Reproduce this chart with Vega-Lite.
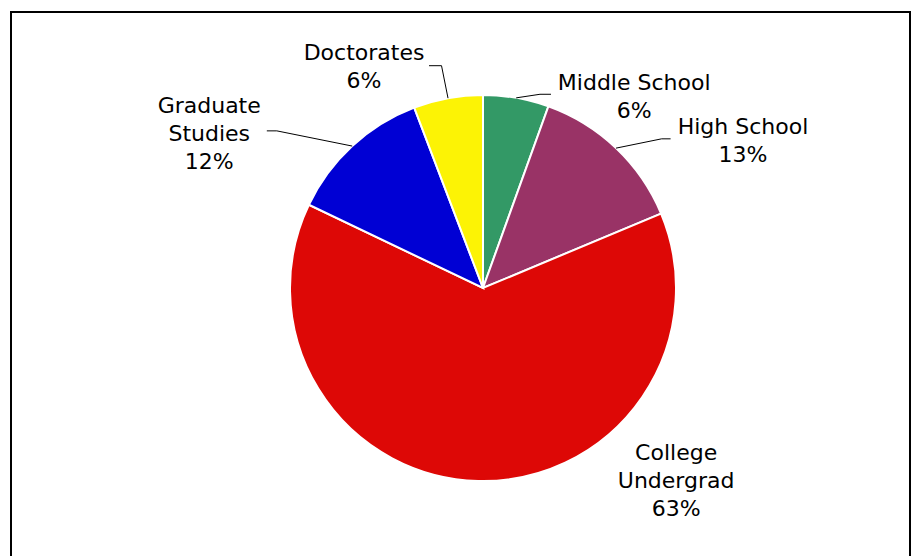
{
  "$schema": "https://vega.github.io/schema/vega-lite/v6.json",
  "width": 912,
  "height": 556,
  "autosize": {"type": "none"},
  "padding": 0,
  "background": "white",
  "config": {"view": {"stroke": null}, "text": {"lineBreak": "\n"}},
  "data": {"values": [
    {"level": "Middle School", "value": 5.5, "order": 1, "label": "Middle School\n6%"},
    {"level": "High School", "value": 13.2, "order": 2, "label": "High School\n13%"},
    {"level": "College Undergrad", "value": 63.4, "order": 3, "label": "College\nUndergrad\n63%"},
    {"level": "Graduate Studies", "value": 12.1, "order": 4, "label": "Graduate\nStudies\n12%"},
    {"level": "Doctorates", "value": 5.8, "order": 5, "label": "Doctorates\n6%"}
  ]},
  "transform": [
    {"window": [{"op": "sum", "field": "value", "as": "cum"}], "sort": [{"field": "order"}], "frame": [null, 0]},
    {"joinaggregate": [{"op": "sum", "field": "value", "as": "total"}]},
    {"calculate": "(datum.cum - datum.value / 2) / datum.total * 2 * PI", "as": "ang"},
    {"calculate": "193 * sin(datum.ang)", "as": "px"},
    {"calculate": "-193 * cos(datum.ang)", "as": "py"}
  ],
  "layer": [
    {
      "data": {"values": [{"frame": 1}]},
      "mark": {"type": "rect", "fill": null, "stroke": "black", "strokeWidth": 2, "clip": false},
      "encoding": {
        "x": {"datum": -472, "type": "quantitative", "scale": {"type": "linear", "domain": [-483, 429], "nice": false, "zero": false}, "axis": null},
        "x2": {"datum": 427},
        "y": {"datum": -276, "type": "quantitative", "scale": {"type": "linear", "domain": [-288, 268], "nice": false, "zero": false, "reverse": true}, "axis": null},
        "y2": {"datum": 290}
      }
    },
    {
      "mark": {"type": "arc", "outerRadius": 193, "stroke": "white", "strokeWidth": 2},
      "encoding": {
        "theta": {"field": "value", "type": "quantitative", "stack": true},
        "order": {"field": "order", "type": "quantitative"},
        "color": {"field": "level", "type": "nominal", "legend": null,
          "scale": {"domain": ["Middle School", "High School", "College Undergrad", "Graduate Studies", "Doctorates"],
                    "range": ["#339966", "#993366", "#DD0806", "#0000D4", "#FCF305"]}},
        "x": {"datum": 0, "type": "quantitative", "scale": {"type": "linear", "domain": [-483, 429], "nice": false, "zero": false}, "axis": null},
        "y": {"datum": 0, "type": "quantitative", "scale": {"type": "linear", "domain": [-288, 268], "nice": false, "zero": false, "reverse": true}, "axis": null}
      }
    },
    {
      "transform": [{"filter": "datum.level === 'Doctorates'"}],
      "encoding": {
        "x": {"field": "px", "type": "quantitative", "scale": {"type": "linear", "domain": [-483, 429], "nice": false, "zero": false}, "axis": null},
        "y": {"field": "py", "type": "quantitative", "scale": {"type": "linear", "domain": [-288, 268], "nice": false, "zero": false, "reverse": true}, "axis": null}
      },
      "layer": [
        {"mark": {"type": "rule", "color": "black", "strokeWidth": 1, "x2Offset": -6.5, "y2Offset": -32.5}, "encoding": {"x2": {"field": "px"}, "y2": {"field": "py"}}},
        {"mark": {"type": "rule", "color": "black", "strokeWidth": 1, "xOffset": -6.5, "yOffset": -32.5, "x2Offset": -19, "y2Offset": -32.5}, "encoding": {"x2": {"field": "px"}, "y2": {"field": "py"}}},
        {"mark": {"type": "text", "font": "DejaVu Sans", "fontSize": 22, "lineHeight": 28, "color": "black", "align": "center", "baseline": "alphabetic", "dx": -84, "dy": -38}, "encoding": {"text": {"field": "label"}}}
      ]
    },
    {
      "transform": [{"filter": "datum.level === 'Graduate Studies'"}],
      "encoding": {
        "x": {"field": "px", "type": "quantitative", "scale": {"type": "linear", "domain": [-483, 429], "nice": false, "zero": false}, "axis": null},
        "y": {"field": "py", "type": "quantitative", "scale": {"type": "linear", "domain": [-288, 268], "nice": false, "zero": false, "reverse": true}, "axis": null}
      },
      "layer": [
        {"mark": {"type": "rule", "color": "black", "strokeWidth": 1, "x2Offset": -75.4, "y2Offset": -15.2}, "encoding": {"x2": {"field": "px"}, "y2": {"field": "py"}}},
        {"mark": {"type": "rule", "color": "black", "strokeWidth": 1, "xOffset": -75.4, "yOffset": -15.2, "x2Offset": -85.4, "y2Offset": -15.2}, "encoding": {"x2": {"field": "px"}, "y2": {"field": "py"}}},
        {"mark": {"type": "text", "font": "DejaVu Sans", "fontSize": 22, "lineHeight": 28, "color": "black", "align": "center", "baseline": "alphabetic", "dx": -143, "dy": -33}, "encoding": {"text": {"field": "label"}}}
      ]
    },
    {
      "transform": [{"filter": "datum.level === 'Middle School'"}],
      "encoding": {
        "x": {"field": "px", "type": "quantitative", "scale": {"type": "linear", "domain": [-483, 429], "nice": false, "zero": false}, "axis": null},
        "y": {"field": "py", "type": "quantitative", "scale": {"type": "linear", "domain": [-288, 268], "nice": false, "zero": false, "reverse": true}, "axis": null}
      },
      "layer": [
        {"mark": {"type": "rule", "color": "black", "strokeWidth": 1, "x2Offset": 23.8, "y2Offset": -3.6}, "encoding": {"x2": {"field": "px"}, "y2": {"field": "py"}}},
        {"mark": {"type": "rule", "color": "black", "strokeWidth": 1, "xOffset": 23.8, "yOffset": -3.6, "x2Offset": 34.8, "y2Offset": -3.6}, "encoding": {"x2": {"field": "px"}, "y2": {"field": "py"}}},
        {"mark": {"type": "text", "font": "DejaVu Sans", "fontSize": 22, "lineHeight": 28, "color": "black", "align": "center", "baseline": "alphabetic", "dx": 118, "dy": -8}, "encoding": {"text": {"field": "label"}}}
      ]
    },
    {
      "transform": [{"filter": "datum.level === 'High School'"}],
      "encoding": {
        "x": {"field": "px", "type": "quantitative", "scale": {"type": "linear", "domain": [-483, 429], "nice": false, "zero": false}, "axis": null},
        "y": {"field": "py", "type": "quantitative", "scale": {"type": "linear", "domain": [-288, 268], "nice": false, "zero": false, "reverse": true}, "axis": null}
      },
      "layer": [
        {"mark": {"type": "rule", "color": "black", "strokeWidth": 1, "x2Offset": 45.6, "y2Offset": -9.3}, "encoding": {"x2": {"field": "px"}, "y2": {"field": "py"}}},
        {"mark": {"type": "rule", "color": "black", "strokeWidth": 1, "xOffset": 45.6, "yOffset": -9.3, "x2Offset": 54.6, "y2Offset": -9.3}, "encoding": {"x2": {"field": "px"}, "y2": {"field": "py"}}},
        {"mark": {"type": "text", "font": "DejaVu Sans", "fontSize": 22, "lineHeight": 28, "color": "black", "align": "center", "baseline": "alphabetic", "dx": 127, "dy": -14}, "encoding": {"text": {"field": "label"}}}
      ]
    },
    {
      "transform": [{"filter": "datum.level === 'College Undergrad'"}],
      "encoding": {
        "x": {"field": "px", "type": "quantitative", "scale": {"type": "linear", "domain": [-483, 429], "nice": false, "zero": false}, "axis": null},
        "y": {"field": "py", "type": "quantitative", "scale": {"type": "linear", "domain": [-288, 268], "nice": false, "zero": false, "reverse": true}, "axis": null}
      },
      "layer": [
        {"mark": {"type": "text", "font": "DejaVu Sans", "fontSize": 22, "lineHeight": 28, "color": "black", "align": "center", "baseline": "alphabetic", "dx": 198, "dy": -21}, "encoding": {"text": {"field": "label"}}}
      ]
    }
  ]
}
